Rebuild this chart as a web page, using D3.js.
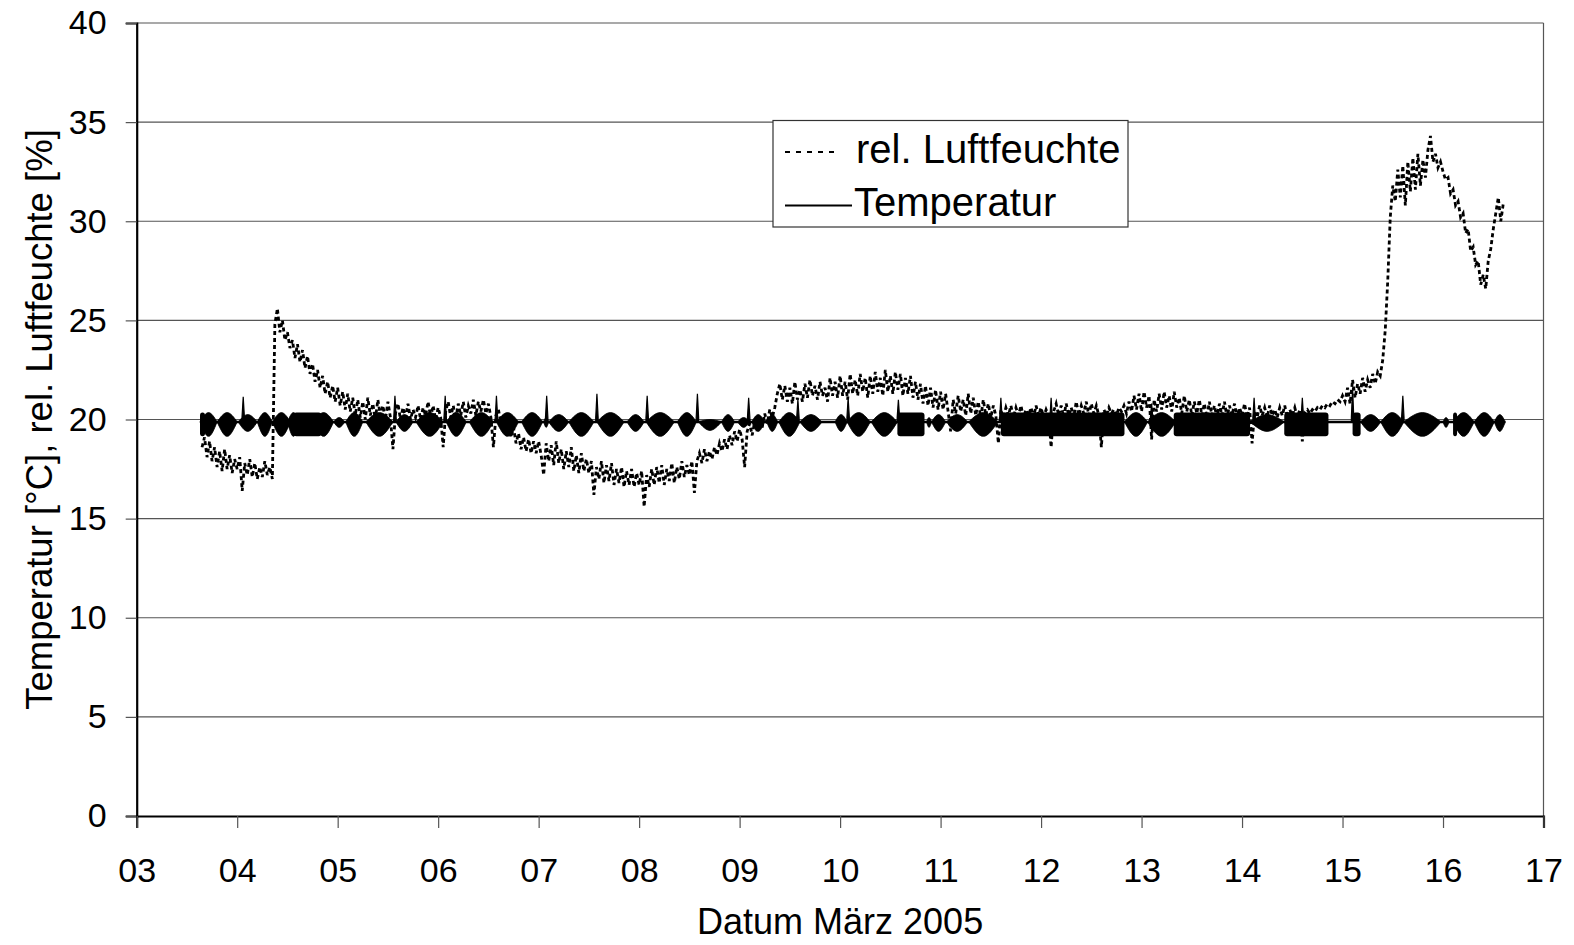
<!DOCTYPE html>
<html>
<head>
<meta charset="utf-8">
<script src="https://cdn.jsdelivr.net/npm/d3@7"></script>
<style>
  body { margin: 0; background: #fff; }
  svg { display: block; font-family: "Liberation Sans", Arial, sans-serif; }
</style>
</head>
<body>
<div id="wrapper"></div>
<script>
/* DATA */
// rel. Luftfeuchte, one reading every 0.025 days from 3.65 (day of March)
const humStart = 3.65;
const humStep = 0.025;
const humidity = [
  18.6, 19.1, 18.1, 18.9, 17.9, 18.6, 17.6, 18.4, 17.4, 18.5, 17.5, 18.2, 17.3, 18.0,
  // 4
  17.5, 18.1, 16.4, 17.8, 17.2, 18.0, 17.1, 17.8, 17.0, 17.6, 17.1, 17.9, 17.2, 17.6, 17.0, 24.8, 25.6, 24.4, 25.0, 24.0,
  24.4, 23.6, 24.0, 23.1, 23.8, 22.9, 23.5, 22.6, 23.2, 22.3, 22.8, 21.9, 22.5, 21.6, 22.2, 21.3, 21.9, 21.1, 21.7, 20.9,
  // 5
  21.6, 20.7, 21.4, 20.5, 21.3, 20.4, 21.1, 20.2, 21.0, 20.1, 20.9, 20.0, 21.1, 20.2, 20.8, 20.0, 21.0, 20.2, 20.7, 20.0,
  20.9, 20.1, 18.5, 20.3, 20.8, 20.0, 20.6, 20.1, 20.8, 20.0, 20.5, 20.1, 20.7, 20.0, 20.6, 20.2, 20.9, 20.1, 20.7, 20.0,
  // 6
  20.6, 20.1, 18.6, 20.4, 20.9, 20.1, 20.7, 20.0, 20.8, 20.2, 20.9, 20.1, 20.7, 20.3, 21.0, 20.2, 20.9, 20.4, 21.0, 20.3,
  20.8, 20.1, 18.6, 20.2, 20.5, 19.8, 20.2, 19.5, 19.9, 19.1, 19.6, 18.8, 19.3, 18.5, 19.1, 18.4, 19.0, 18.3, 18.9, 18.3,
  // 7
  18.9, 18.2, 17.2, 18.8, 17.9, 18.7, 17.7, 18.9, 17.8, 18.5, 17.5, 18.4, 17.6, 18.6, 17.4, 18.2, 17.3, 18.3, 17.4, 18.0,
  17.3, 17.9, 16.2, 17.6, 17.0, 17.9, 16.8, 17.7, 16.9, 17.8, 16.7, 17.5, 16.8, 17.6, 16.6, 17.4, 16.7, 17.5, 16.6, 17.3,
  // 8
  16.7, 17.4, 15.6, 17.2, 16.6, 17.5, 16.7, 17.6, 16.8, 17.7, 16.7, 17.5, 16.9, 17.8, 16.8, 17.6, 17.0, 17.9, 17.1, 17.7,
  17.2, 17.9, 16.3, 17.9, 18.3, 17.8, 18.5, 17.9, 18.4, 18.0, 18.6, 18.2, 18.8, 18.4, 19.0, 18.5, 19.2, 18.7, 19.4, 18.9,
  // 9
  19.5, 19.0, 17.6, 19.4, 19.8, 19.2, 19.9, 19.4, 20.1, 19.6, 20.3, 19.8, 20.5, 20.1, 20.6, 21.3, 21.8, 21.0, 21.7, 20.9,
  21.6, 20.8, 21.9, 21.0, 21.5, 20.9, 21.8, 21.1, 22.0, 21.2, 21.7, 21.0, 21.9, 21.2, 21.6, 20.9, 22.1, 21.2, 21.9, 21.1,
  // 10
  22.2, 21.2, 21.9, 21.0, 22.3, 21.3, 22.0, 21.2, 22.3, 21.4, 22.1, 21.1, 22.2, 21.3, 22.4, 21.4, 22.1, 21.2, 22.5, 21.4,
  22.2, 21.3, 22.4, 21.5, 22.3, 21.2, 22.1, 21.3, 22.2, 21.1, 21.9, 21.0, 21.8, 20.8, 21.7, 20.7, 21.6, 20.6, 21.5, 20.5,
  // 11
  21.4, 20.5, 21.3, 20.4, 19.4, 21.0, 20.3, 21.2, 20.4, 21.0, 20.2, 21.3, 20.3, 21.1, 20.2, 20.9, 20.1, 21.0, 20.2, 20.8,
  20.1, 20.7, 20.2, 18.8, 20.5, 20.1, 20.6, 20.2, 20.7, 20.1, 20.6, 20.2, 20.7, 20.1, 20.5, 20.2, 20.6, 20.1, 20.7, 20.2,
  // 12
  20.6, 20.1, 20.5, 20.2, 18.6, 20.4, 20.8, 20.2, 20.7, 20.1, 20.8, 20.2, 20.6, 20.1, 20.9, 20.2, 20.7, 20.3, 20.9, 20.2,
  20.8, 20.3, 20.7, 20.2, 18.6, 20.5, 20.2, 20.6, 20.3, 20.5, 20.2, 20.6, 20.4, 20.7, 20.3, 20.9, 20.4, 21.2, 20.5, 21.3,
  // 13
  20.4, 21.4, 20.6, 21.2, 19.0, 21.0, 20.4, 21.3, 20.5, 21.4, 20.6, 21.2, 20.4, 21.4, 20.6, 21.1, 20.3, 21.2, 20.4, 21.0,
  20.2, 20.9, 20.3, 21.0, 20.2, 20.8, 20.1, 20.9, 20.2, 20.7, 20.1, 20.8, 20.2, 20.9, 20.1, 20.7, 20.2, 20.8, 20.1, 20.6,
  // 14
  20.2, 20.8, 20.1, 20.6, 18.8, 20.4, 20.1, 20.7, 20.2, 20.6, 20.1, 20.7, 20.2, 20.5, 20.1, 20.6, 20.2, 20.7, 20.1, 20.5,
  20.2, 20.6, 20.1, 20.5, 18.9, 20.4, 20.5, 20.3, 20.5, 20.4, 20.6, 20.5, 20.7, 20.6, 20.8, 20.7, 20.9, 20.8, 21.0, 20.9,
  // 15
  21.2, 20.9, 21.6, 20.8, 22.0, 21.1, 21.8, 21.3, 22.1, 21.4, 22.0, 21.6, 22.3, 21.8, 22.4, 22.2, 23.0, 24.5, 27.0, 30.2,
  31.8, 31.0, 32.6, 31.2, 32.8, 30.8, 33.0, 31.5, 33.2, 31.6, 33.4, 31.8, 33.1, 32.2, 33.6, 34.3, 33.0, 33.4, 32.7, 33.0,
  // 16
  32.5, 32.1, 32.2, 31.4, 31.6, 30.8, 31.0, 30.2, 30.4, 29.4, 29.6, 28.5, 28.7, 27.8, 28.0, 26.8, 27.3, 26.6, 28.0, 28.6,
  29.6, 30.4, 31.2, 30.0, 30.9,
];

// Temperatur: fast oscillation around the set point, read as an envelope
const tempFrom = 3.63;
const tempTo = 16.62;
const tempBase = 19.88;
const lensFrom = [3.63, 3.80, 4.01, 4.20, 4.35, 4.50, 4.76, 4.96, 5.08, 5.28,
  5.58, 5.78, 6.08, 6.31, 6.58, 6.83, 7.05, 7.10, 7.30, 7.58,
  7.88, 8.07, 8.38, 8.59, 8.82, 8.98, 9.12, 9.27, 9.39, 9.60,
  9.95, 10.07, 10.31, 10.86, 10.91, 11.06, 11.28, 12.83, 13.06, 14.08,
  15.18, 15.38, 15.61, 16.00, 16.10, 16.31, 16.51];
const lensTo = [3.80, 4.00, 4.20, 4.35, 4.53, 4.62, 4.96, 5.07, 5.25, 5.55,
  5.75, 6.05, 6.28, 6.55, 6.80, 7.04, 7.10, 7.30, 7.55, 7.85,
  8.05, 8.35, 8.57, 8.82, 8.95, 9.10, 9.25, 9.38, 9.60, 9.82,
  10.07, 10.30, 10.57, 10.91, 11.05, 11.27, 11.57, 13.06, 13.34, 14.42,
  15.38, 15.61, 15.98, 16.06, 16.31, 16.51, 16.62];
const lensHigh = [20.35, 20.35, 20.25, 20.35, 20.35, 20.35, 20.35, 20.1, 20.35, 20.35,
  20.25, 20.35, 20.35, 20.35, 20.35, 20.35, 20.1, 20.25, 20.35, 20.35,
  20.25, 20.35, 20.35, 20.0, 20.25, 20.1, 20.25, 20.25, 20.35, 20.25,
  20.25, 20.35, 20.35, 20.1, 20.25, 20.25, 20.35, 20.35, 20.35, 20.25,
  20.25, 20.35, 20.35, 20.1, 20.35, 20.35, 20.25];
const lensLow = [19.15, 19.15, 19.4, 19.15, 19.15, 19.15, 19.15, 19.6, 19.15, 19.15,
  19.4, 19.15, 19.15, 19.15, 19.15, 19.15, 19.6, 19.4, 19.15, 19.15,
  19.4, 19.15, 19.15, 19.45, 19.4, 19.6, 19.4, 19.4, 19.15, 19.4,
  19.4, 19.15, 19.15, 19.6, 19.4, 19.4, 19.15, 19.15, 19.15, 19.4,
  19.4, 19.15, 19.15, 19.6, 19.15, 19.15, 19.4];
const blockFrom = [3.63, 4.56, 10.57, 11.60, 13.32, 14.42, 15.10, 16.10];
const blockTo = [3.68, 4.84, 10.84, 12.83, 14.08, 14.86, 15.18, 16.14];
const blockLow = 19.15;
const blockHigh = 20.35;
const spikeDay = [4.06, 5.57, 6.07, 6.58, 7.08, 7.58, 8.08, 8.58, 9.09, 9.58,
  10.08, 10.58, 11.60, 12.10, 13.10, 14.12, 14.60, 15.10, 15.60];
const spikePeak = [21.15, 21.2, 21.2, 21.2, 21.2, 21.3, 21.2, 21.3, 21.1, 21.0,
  21.1, 21.0, 21.1, 21.1, 20.8, 21.1, 21.1, 21.6, 21.2];

const xTicks = d3.range(3, 18);
const yTicks = d3.range(0, 45, 5);

/* DIMENSIONS */
const dimensions = {
  width: 1574,
  height: 945,
  margin: { top: 23, right: 30.5, bottom: 129, left: 136.7 },
};
dimensions.boundedWidth = dimensions.width - dimensions.margin.left - dimensions.margin.right;
dimensions.boundedHeight = dimensions.height - dimensions.margin.top - dimensions.margin.bottom;

/* SCALES */
const xScale = d3.scaleLinear().domain([3, 17]).range([0, dimensions.boundedWidth]);
const yScale = d3.scaleLinear().domain([0, 40]).range([dimensions.boundedHeight, 0]);

/* DRAW */
const svg = d3.select('#wrapper').append('svg')
  .attr('width', dimensions.width)
  .attr('height', dimensions.height);

const bounds = svg.append('g')
  .attr('transform', `translate(${dimensions.margin.left},${dimensions.margin.top})`);

// gridlines + plot frame
bounds.append('g').selectAll('line')
  .data(yTicks.filter(d => d > 0))
  .join('line')
  .attr('x1', 0).attr('x2', dimensions.boundedWidth)
  .attr('y1', d => yScale(d)).attr('y2', d => yScale(d))
  .attr('stroke', '#555').attr('stroke-width', 1.2);
bounds.append('line')
  .attr('x1', dimensions.boundedWidth).attr('x2', dimensions.boundedWidth)
  .attr('y1', 0).attr('y2', dimensions.boundedHeight)
  .attr('stroke', '#555').attr('stroke-width', 1.2);

// Temperatur
const tempGroup = bounds.append('g').attr('fill', '#000');
tempGroup.append('line')
  .attr('x1', xScale(tempFrom)).attr('x2', xScale(tempTo))
  .attr('y1', yScale(tempBase)).attr('y2', yScale(tempBase))
  .attr('stroke', '#000').attr('stroke-width', 2.5);

const lensArea = d3.area()
  .x(d => xScale(d[0]))
  .y0(d => yScale(d[1]))
  .y1(d => yScale(d[2]))
  .curve(d3.curveNatural);

tempGroup.selectAll('path.lens')
  .data(lensFrom.map((f, i) => [
    [f, tempBase, tempBase],
    [(f + lensTo[i]) / 2, lensLow[i], lensHigh[i]],
    [lensTo[i], tempBase, tempBase],
  ]))
  .join('path')
  .attr('class', 'lens')
  .attr('d', lensArea)
  .attr('stroke', '#000').attr('stroke-width', 0.8);

tempGroup.selectAll('rect')
  .data(blockFrom)
  .join('rect')
  .attr('x', d => xScale(d))
  .attr('width', (d, i) => xScale(blockTo[i]) - xScale(d))
  .attr('y', yScale(blockHigh))
  .attr('height', yScale(blockLow) - yScale(blockHigh))
  .attr('rx', 3);

const spikeArea = d3.area()
  .x(d => xScale(d[0]))
  .y0(yScale(tempBase))
  .y1(d => yScale(d[1]));

tempGroup.selectAll('path.spike')
  .data(spikeDay.map((s, i) => [[s - 0.012, 20.1], [s, spikePeak[i]], [s + 0.012, 20.1]]))
  .join('path')
  .attr('class', 'spike')
  .attr('d', spikeArea)
  .attr('stroke', '#000').attr('stroke-width', 1.2);

// rel. Luftfeuchte
const humLine = d3.line()
  .x((d, i) => xScale(humStart + i * humStep))
  .y(d => yScale(d));

bounds.append('path')
  .attr('d', humLine(humidity))
  .attr('fill', 'none')
  .attr('stroke', '#000')
  .attr('stroke-width', 2.8)
  .attr('stroke-dasharray', '4,3');

/* AXES */
const yAxis = bounds.append('g')
  .call(d3.axisLeft(yScale).tickValues(yTicks).tickSize(11).tickPadding(19));
yAxis.select('.domain').attr('stroke', '#000').attr('stroke-width', 2.2);
yAxis.selectAll('.tick line').attr('stroke', '#555').attr('stroke-width', 1.2);
yAxis.selectAll('.tick text').attr('font-size', 34).attr('fill', '#000')
  .attr('font-family', '"Liberation Sans", Arial, sans-serif');

const xAxis = bounds.append('g')
  .attr('transform', `translate(0,${dimensions.boundedHeight})`)
  .call(d3.axisBottom(xScale).tickValues(xTicks).tickFormat(d3.format('02d')).tickSize(12).tickPadding(30));
xAxis.select('.domain').attr('stroke', '#000').attr('stroke-width', 2.2);
xAxis.selectAll('.tick line').attr('stroke', '#555').attr('stroke-width', 1.2);
xAxis.selectAll('.tick text').attr('font-size', 34).attr('fill', '#000')
  .attr('font-family', '"Liberation Sans", Arial, sans-serif');
xAxis.selectAll('.tick text').attr('dy', '0').attr('y', 66);

svg.append('text')
  .text('Datum März 2005')
  .attr('x', dimensions.margin.left + dimensions.boundedWidth / 2)
  .attr('y', 934)
  .attr('text-anchor', 'middle')
  .attr('font-size', 36);

svg.append('text')
  .text('Temperatur [°C], rel. Luftfeuchte [%]')
  .attr('text-anchor', 'middle')
  .attr('font-size', 36.5)
  .attr('transform', `translate(52, ${dimensions.margin.top + dimensions.boundedHeight / 2}) rotate(-90)`);

/* LEGEND */
const legend = svg.append('g');
legend.append('rect')
  .attr('x', 773).attr('y', 120.5)
  .attr('width', 355).attr('height', 106.5)
  .attr('fill', '#fff').attr('stroke', '#333').attr('stroke-width', 1.2);
legend.append('line')
  .attr('x1', 785).attr('x2', 840).attr('y1', 152).attr('y2', 152)
  .attr('stroke', '#000').attr('stroke-width', 2).attr('stroke-dasharray', '5,6');
legend.append('text').text('rel. Luftfeuchte')
  .attr('x', 856).attr('y', 163).attr('font-size', 40);
legend.append('line')
  .attr('x1', 785).attr('x2', 852).attr('y1', 205.5).attr('y2', 205.5)
  .attr('stroke', '#000').attr('stroke-width', 2);
legend.append('text').text('Temperatur')
  .attr('x', 854).attr('y', 216).attr('font-size', 40);
</script>
</body>
</html>
